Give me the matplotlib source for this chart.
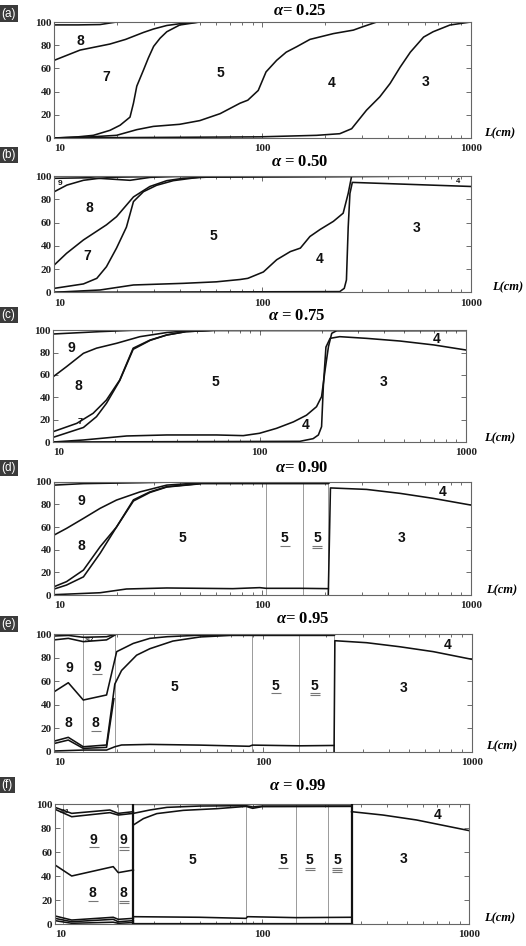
import matplotlib
matplotlib.use("Agg")
import matplotlib.pyplot as plt
from matplotlib.transforms import ScaledTranslation
import numpy as np

plt.rcParams['mathtext.fontset'] = 'custom'
plt.rcParams['mathtext.it'] = 'Liberation Serif:italic:bold'
plt.rcParams['mathtext.rm'] = 'Liberation Serif:bold'

W, H = 526, 946

# ---------------- data: panel (a) alpha = 0.25 ----------------
a_top_x = [10, 13, 16.6, 19.9, 1000]
a_top_y = [97.5, 97.5, 97.8, 100, 100]
a_78_x = [10, 13.3, 18.5, 22, 26.8, 30, 34.7, 40, 50, 1000]
a_78_y = [67, 75.8, 81, 85, 91, 94, 97, 98.5, 100, 100]
a_57_x = [10, 13, 15.4, 18.5, 20.7, 23.1, 24, 24.9, 26.8, 28.3, 30, 32.2, 34.7, 40, 50, 1000]
a_57_y = [0, 1, 2.3, 6.6, 11, 18, 30, 44.7, 58.5, 69, 79, 86, 91.6, 97.4, 100, 100]
a_45_x = [10, 15, 19.9, 24.9, 29.9, 40, 50, 62.6, 78, 85, 95.4, 104, 117, 130, 146, 169, 219, 273, 304, 354, 1000]
a_45_y = [0, 1, 2.3, 7.2, 10, 11.8, 15, 21, 30, 32.6, 41, 57, 67, 74, 78.7, 85, 90, 93, 96, 100, 100]
a_34_x = [10, 97, 182, 235, 268, 316, 366, 410, 458, 513, 594, 660, 795, 1000]
a_34_y = [0, 1, 2.3, 3.7, 8, 24, 35.5, 47, 61, 74, 87, 91.6, 97.4, 100]
a_labels = [("8", 13.3, 84, 0, 10), ("7", 17.7, 53, 0, 10), ("5", 62.8, 56, 0, 10),
            ("4", 215, 47, 0, 10), ("3", 610, 48, 0, 10)]

# ---------------- data: panel (b) alpha = 0.50 ----------------
b_top_x = [10, 14.8, 23.1, 28.8, 40, 1000]
b_top_y = [98, 98.5, 96.3, 98.8, 100, 100]
b_89_x = [10, 11.5, 13.8, 16.4, 19.9, 30, 1000]
b_89_y = [86.5, 92.2, 96.3, 98, 99, 99.5, 100]
b_78_x = [10, 11.45, 13.8, 17.8, 19.9, 24, 28.8, 34.7, 41.6, 60, 1000]
b_78_y = [23.5, 33.5, 45, 58, 65, 82, 91, 96, 98, 99.4, 100]
b_57_x = [10, 13.8, 16, 17.8, 19.9, 22.2, 24, 26.8, 31, 37.3, 50, 1000]
b_57_y = [3.4, 7.2, 12, 22, 38, 56, 78, 86.5, 92, 96, 99, 100]
b_45_x = [10, 16.6, 24, 41.6, 60, 78, 85, 101, 117, 136, 152, 169, 189, 219, 244, 258, 268, 1000]
b_45_y = [0, 2, 6.3, 7.7, 9, 11, 12, 17.5, 28, 35, 38, 48, 54, 61, 68, 85, 100, 100]
b_34_x = [10, 235, 247, 253, 258, 263, 270, 1000]
b_34_y = [0, 0.6, 3.4, 10.6, 56, 85, 94.5, 91]
b_labels = [("9", 10.6, 93.5, 0, 6), ("8", 14.7, 72.8, 0, 10), ("7", 14.4, 31.5, 0, 10),
            ("5", 58, 48.4, 0, 10), ("4", 188, 29, 0, 10), ("3", 548, 55, 0, 10),
            ("4", 870, 95.5, 0, 5.5)]

# ---------------- data: panel (c) alpha = 0.75 ----------------
c_top_x = [10, 16.8, 24.4, 1000]
c_top_y = [96.7, 98.8, 100, 100]
c_89_x = [10, 11.6, 14, 16.2, 20.3, 26.3, 35.5, 44.3, 60, 1000]
c_89_y = [58.5, 67.5, 79.4, 84, 88.4, 94.3, 98, 99.4, 100, 100]
c_78_x = [10, 13, 15.6, 18.1, 21, 24.4, 29.5, 35.5, 44, 60, 1000]
c_78_y = [9.3, 16.7, 25.7, 37.6, 55.5, 84, 91.3, 95.8, 98.8, 100, 100]
c_57_x = [10, 14, 16.2, 18.1, 21, 24.4, 29.5, 35.5, 44, 60, 1000]
c_57_y = [4.2, 13, 22.7, 34.6, 55, 83, 91, 95.8, 98.8, 100, 100]
c_45_x = [10, 14, 22.7, 35.5, 62, 83.4, 100, 120.8, 146, 169, 189, 200, 208, 216, 224, 237, 1000]
c_45_y = [0, 1.8, 5.4, 6.3, 6.3, 5.7, 7.8, 12.2, 18, 24, 31.6, 40.6, 64.5, 85.4, 97.3, 99.7, 100]
c_34_x = [10, 157, 182, 193, 200, 204, 210, 220, 245, 330, 480, 700, 1000]
c_34_y = [0, 0.6, 3, 6.3, 13.7, 50, 85, 92.8, 94.3, 92.8, 90.4, 86.9, 82.4]
c_labels = [("9", 12.2, 84, 0, 10), ("8", 13.3, 50, 0, 10), ("7", 13.5, 18, 0, 6.5),
            ("5", 61.4, 54, 0, 10), ("4", 167, 15.2, 0, 10), ("3", 399, 54, 0, 10),
            ("4", 722, 92, 0, 10)]

# ---------------- data: panel (d) alpha = 0.90 ----------------
d_t1_x = [10, 13.8, 24, 1000]
d_t1_y = [99.4, 99.6, 100, 100]
d_t2_x = [10, 13.8, 25.8, 40, 1000]
d_t2_y = [97, 98.3, 99.1, 99.8, 100]
d_89_x = [10, 11.45, 13.8, 16.6, 19.9, 25.8, 34.7, 50, 100, 207, 212, 1000]
d_89_y = [53, 58.8, 67.6, 76.5, 83.8, 91, 97, 99, 98.8, 98.8, 100, 100]
d_58a_x = [10, 11.45, 13.8, 16.6, 19.9, 24, 28.8, 34.7, 50, 100, 207, 212, 1000]
d_58a_y = [7.4, 11.8, 22, 42.6, 60, 84, 91, 95.6, 98.3, 98.3, 98.3, 100, 100]
d_58b_x = [10, 11.45, 13.8, 16.6, 19.9, 24, 28.8, 34.7, 50]
d_58b_y = [5.3, 8.8, 16, 36.8, 60, 83, 90.5, 95.3, 98.1]
d_45_x = [10, 16.6, 22.2, 34.7, 72, 97, 104, 152, 207]
d_45_y = [0.3, 2, 5.3, 6.2, 5.6, 6.5, 5.9, 5.9, 5.6]
d_34_x = [207, 212, 316, 458, 660, 1000]
d_34_y = [0, 94.5, 93.2, 89.7, 85.3, 79.4]
d_vlines = [103.5, 156, 207]
d_labels = [("9", 13.5, 82.6, 0, 10), ("8", 13.5, 43, 0, 10), ("5", 41.3, 50.3, 0, 10),
            ("5", 128, 50, 1, 10), ("5", 183, 50, 2, 10), ("3", 464, 50, 0, 10),
            ("4", 737, 91, 0, 10)]

# ---------------- data: panel (e) alpha = 0.95 ----------------
e_t1_x = [10, 11.67, 13.77, 17.8, 19.9, 1000]
e_t1_y = [98.3, 98.8, 97.2, 97.7, 100, 100]
e_t2_x = [10, 11.67, 13.77, 17.8, 19.9]
e_t2_y = [95, 96.3, 93.5, 95, 100]
e_89_x = [10, 11.67, 13.77, 17.8, 19.9, 23.9, 28.7, 34.7, 50, 219, 222, 1000]
e_89_y = [51, 58.6, 43.9, 48.2, 85, 92, 96.3, 97.7, 99, 99, 100, 100]
e_78a_x = [10, 11.67, 13.77, 17.8, 19.5, 21, 24.8, 28.7, 37, 50, 70, 219, 222]
e_78a_y = [9, 12.2, 4.2, 5.7, 57.5, 69, 82, 87.5, 94, 97.5, 98.8, 98.8, 100]
e_78b_x = [10, 11.67, 13.77, 17.8, 19.3]
e_78b_y = [7, 9.9, 2.8, 3.7, 45]
e_45_x = [10, 13.77, 17.8, 19.5, 21, 28.7, 50, 86, 89, 150, 219]
e_45_y = [0.6, 1.4, 1.4, 4.2, 5.7, 6.2, 5.6, 4.6, 5.6, 5.0, 5.3]
e_34_x = [219, 221, 314, 451, 655, 1000]
e_34_y = [0, 94.3, 92.6, 89.2, 85, 78.5]
e_vlines = [13.77, 19.5, 88.9, 149, 219]
e_labels = [("9", 11.8, 70.8, 0, 10), ("9", 16.1, 72, 1, 10), ("8", 11.7, 24, 0, 10),
            ("8", 15.8, 24, 1, 10), ("5", 37.5, 55, 0, 10), ("5", 115, 56, 1, 10),
            ("5", 177, 56, 2, 10), ("3", 470, 54, 0, 10), ("4", 765, 91, 0, 10),
            (">12", 14.8, 95.5, 0, 4)]

# ---------------- data: panel (f) alpha = 0.99 ----------------
f_t1_x = [10, 12.04, 18.4, 20.2, 23.9]
f_t1_y = [97.2, 92.2, 95, 92.2, 93.6]
f_t2_x = [10, 12.04, 18.4, 20.2, 23.9]
f_t2_y = [95.6, 89.4, 92.8, 90.8, 92.2]
f_89_x = [10, 12.04, 19.1, 20.2, 23.9]
f_89_y = [49.2, 40, 47.8, 42.8, 45]
f_b1_x = [10, 12.04, 19.1, 20.2, 23.9]
f_b1_y = [6.7, 3.3, 5.6, 3.9, 4.7]
f_b2_y = [4.7, 1.9, 3.9, 1.9, 2.8]
f_b3_y = [2.8, 0.6, 1.5, 0.6, 1.2]
f_in1_x = [23.9, 28.7, 34.7, 50, 83.6, 90, 100, 270]
f_in1_y = [92.2, 95, 97.2, 98.3, 98.6, 97.5, 98.3, 98.3]
f_in2_x = [23.9, 26.7, 31, 41.6, 60.3, 83.6, 90, 100, 270]
f_in2_y = [82.5, 87.8, 92, 94.7, 96.1, 98.0, 96.4, 97.8, 98]
f_bot_x = [23.9, 50, 83.6, 85, 146, 270]
f_bot_y = [6.1, 5.6, 4.7, 6.1, 5.3, 5.6]
f_34_x = [270, 383, 556, 1000]
f_34_y = [93.6, 90.8, 86.7, 77.8]
f_box_x = [23.9, 270]
f_vlines = [10.97, 20.2, 83.6, 146, 208]
f_labels = [("9", 15.4, 70, 1, 10), ("9", 21.5, 70, 2, 10), ("8", 15.2, 25.6, 1, 10),
            ("8", 21.5, 25.6, 2, 10), ("5", 46.2, 53, 0, 10), ("5", 126, 53, 1, 10),
            ("5", 170, 53, 2, 10), ("5", 231, 53, 3, 10), ("3", 479, 54, 0, 10),
            ("4", 706, 91, 0, 10), (">12", 11.1, 93.5, 0, 4)]

# ---------------- panel geometry (pixels) and texts ----------------
panel_box = [(54.3, 470.7, 22, 138), (54.3, 470.7, 176, 292.3), (53.3, 465.7, 330.3, 442),
             (54.3, 470.7, 481.7, 595), (54.3, 471.7, 634, 751.7), (55, 469.3, 804, 924)]
panel_tags = ["(a)", "(b)", "(c)", "(d)", "(e)", "(f)"]
tag_y = [13.5, 155, 315, 468, 624, 785]
titles = [r"$\alpha$= 0.25", r"$\alpha$ = 0.50", r"$\alpha$ = 0.75",
          r"$\alpha$= 0.90", r"$\alpha$= 0.95", r"$\alpha$ = 0.99"]
title_pos = [(300, 11), (300, 162), (297, 316), (302, 468), (303, 619), (298, 786)]
xlab_pos = [(500, 133), (508, 287), (500, 438), (502, 590), (502, 746), (500, 918)]

fig = plt.figure(figsize=(W / 100, H / 100), dpi=100)
fig.patch.set_facecolor('white')

LC = '#111111'
LW = 1.15


def make_ax(box):
    l, r, t, b = box
    ax = fig.add_axes([l / W, 1 - b / H, (r - l) / W, (b - t) / H])
    ax.set_xscale('log')
    ax.set_xlim(10, 1000)
    ax.set_ylim(0, 100)
    ax.set_xticks([10, 100, 1000])
    ax.set_xticklabels(['10', '100', '1000'])
    ax.set_yticks([0, 20, 40, 60, 80, 100])
    ax.tick_params(which='both', direction='in', top=True, right=True,
                   labelsize=8.0, color='#555555', width=0.6)
    ax.tick_params(axis='x', pad=4.5)
    ax.tick_params(axis='y', pad=2)
    ax.tick_params(which='major', length=3.5)
    ax.tick_params(which='minor', length=2)
    for lab in ax.get_xticklabels() + ax.get_yticklabels():
        lab.set_fontfamily('Liberation Serif')
        lab.set_fontweight('bold')
        lab.set_color('#222222')
    ax.get_xticklabels()[0].set_horizontalalignment('left')
    return ax


def style_spines(ax):
    for s in ax.spines.values():
        s.set_color('#666666')
        s.set_linewidth(0.8)


def curve(ax, x, y, lw=LW):
    ax.plot(x, y, color=LC, lw=lw, solid_joinstyle='round')


def vlines(ax, xs):
    for xv in xs:
        ax.axvline(xv, color='#9a9a9a', lw=0.7, zorder=1)


def labels(ax, labs):
    for txt, x, y, nul, size in labs:
        ax.text(x, y, txt, ha='center', va='center', fontsize=size,
                fontweight='bold', family='Liberation Sans', color='#111111', zorder=5)
        for k in range(nul):
            tr = ax.transData + ScaledTranslation(0, -(5.2 + 1.7 * k) / 72, fig.dpi_scale_trans)
            ax.plot([x], [y], marker='_', ms=7, mew=0.8, color='#777777', transform=tr,
                    clip_on=False, zorder=5)


axes = [make_ax(b) for b in panel_box]
for ax in axes:
    style_spines(ax)

# (a)
ax = axes[0]
for x, y in [(a_top_x, a_top_y), (a_78_x, a_78_y), (a_57_x, a_57_y), (a_45_x, a_45_y), (a_34_x, a_34_y)]:
    curve(ax, x, y)
labels(ax, a_labels)

# (b)
ax = axes[1]
for x, y in [(b_top_x, b_top_y), (b_89_x, b_89_y), (b_78_x, b_78_y), (b_57_x, b_57_y),
             (b_45_x, b_45_y), (b_34_x, b_34_y)]:
    curve(ax, x, y)
labels(ax, b_labels)

# (c)
ax = axes[2]
for x, y in [(c_top_x, c_top_y), (c_89_x, c_89_y), (c_78_x, c_78_y), (c_57_x, c_57_y),
             (c_45_x, c_45_y), (c_34_x, c_34_y)]:
    curve(ax, x, y)
labels(ax, c_labels)

# (d)
ax = axes[3]
vlines(ax, d_vlines)
for x, y in [(d_t1_x, d_t1_y), (d_t2_x, d_t2_y), (d_89_x, d_89_y), (d_58a_x, d_58a_y),
             (d_58b_x, d_58b_y), (d_45_x, d_45_y), (d_34_x, d_34_y)]:
    curve(ax, x, y)
labels(ax, d_labels)

# (e)
ax = axes[4]
vlines(ax, e_vlines)
for x, y in [(e_t1_x, e_t1_y), (e_t2_x, e_t2_y), (e_89_x, e_89_y), (e_78a_x, e_78a_y),
             (e_78b_x, e_78b_y), (e_45_x, e_45_y), (e_34_x, e_34_y)]:
    curve(ax, x, y)
labels(ax, e_labels)

# (f)
ax = axes[5]
vlines(ax, f_vlines)
for x, y in [(f_t1_x, f_t1_y), (f_t2_x, f_t2_y), (f_89_x, f_89_y), (f_b1_x, f_b1_y),
             (f_b1_x, f_b2_y), (f_b1_x, f_b3_y), (f_in1_x, f_in1_y), (f_in2_x, f_in2_y),
             (f_bot_x, f_bot_y), (f_34_x, f_34_y)]:
    curve(ax, x, y)
for xv in f_box_x:
    ax.axvline(xv, color=LC, lw=1.6, zorder=4)
ax.plot(f_box_x, [99.6, 99.6], color=LC, lw=1.6)
ax.plot(f_box_x, [0.4, 0.4], color=LC, lw=1.6)
labels(ax, f_labels)

# figure-level texts
for i in range(6):
    fig.text(1.5 / W, 1 - tag_y[i] / H, panel_tags[i], ha='left', va='center', color='white',
             fontsize=8.5, family='Liberation Sans',
             bbox=dict(boxstyle='square,pad=0.2', facecolor='#3b3b3b', edgecolor='none'))
    tx, ty = title_pos[i]
    fig.text(tx / W, 1 - ty / H, titles[i], ha='center', va='center', fontsize=12,
             family='Liberation Serif', fontweight='bold')
    lx, ly = xlab_pos[i]
    fig.text(lx / W, 1 - ly / H, 'L(cm)', ha='center', va='center', fontsize=9,
             family='Liberation Serif', style='italic', fontweight='bold')

fig.savefig('out.png', dpi=100, facecolor='white')
